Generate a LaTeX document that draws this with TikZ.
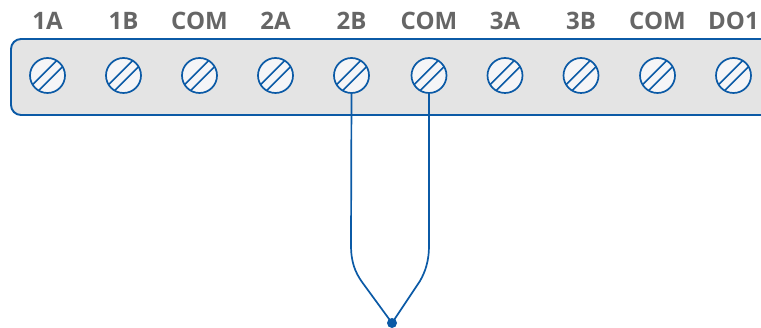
\documentclass[tikz,border=0pt]{standalone}
\usepackage{fontspec}
\setmainfont{Open Sans}
\definecolor{wireblue}{HTML}{0B5AA6}
\definecolor{panelgrey}{HTML}{E4E4E4}
\definecolor{screwfill}{HTML}{F5F5F7}
\definecolor{labelgrey}{HTML}{666666}
\tikzset{
  panel/.style={draw=wireblue,fill=panelgrey,line width=1.9pt,rounded corners=10pt},
  screwbody/.style={circle,draw=wireblue,fill=screwfill,line width=1.7pt,minimum size=35pt,inner sep=0pt,outer sep=0pt},
  slot/.style={draw=wireblue,line width=1.5pt},
  wire/.style={draw=wireblue,line width=1.7pt},
  termlabel/.style={text=labelgrey,font=\fontsize{24}{24}\selectfont\bfseries,anchor=base,inner sep=0pt},
  junction/.style={circle,fill=wireblue,minimum size=10pt,inner sep=0pt,outer sep=0pt}
}
\newcommand{\screw}[4]{%
  \node[screwbody] (#1) at (#2,75.5) {};
  \begin{scope}
    \clip (#1.center) circle (17.5pt);
    \draw[slot] ([shift={(-2.9,-2.9)}]#1.center) ++(-20,20) -- ++(40,-40);
    \draw[slot] ([shift={(3.1,3.1)}]#1.center) ++(-20,20) -- ++(40,-40);
  \end{scope}
  \node[termlabel] (#3) at (#2,30) {#4};
}
\begin{document}
\begin{tikzpicture}[x=1pt,y=-1pt]
\useasboundingbox (0,0) rectangle (761,328);
\begin{scope}
  \clip (0,0) rectangle (761,328);
  \draw[panel] (11,39) rectangle (790,115);
\end{scope}
\screw{s1}{47.5}{l1}{1A}
\screw{s2}{123.5}{l2}{1B}
\screw{s3}{199.5}{l3}{COM}
\screw{s4}{275.5}{l4}{2A}
\screw{s5}{351.5}{l5}{2B}
\screw{s6}{429}{l6}{COM}
\screw{s7}{505}{l7}{3A}
\screw{s8}{581}{l8}{3B}
\screw{s9}{657.5}{l9}{COM}
\screw{s10}{733.5}{l10}{DO1}
\node[junction] (dot) at (392,323) {};
\draw[wire] (s5.south) -- (351,245) .. controls (351,262) and (355,272) .. (362,282) -- (dot.center);
\draw[wire] (s6.south) -- (429,245) .. controls (429,262) and (425,272) .. (420,281) -- (dot.center);
\end{tikzpicture}
\end{document}
